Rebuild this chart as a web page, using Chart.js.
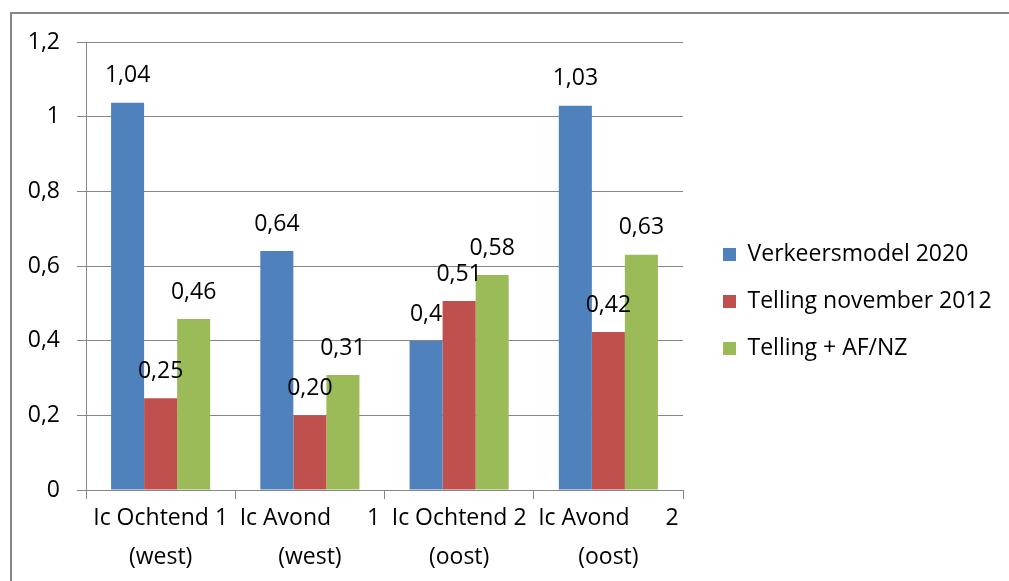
<!DOCTYPE html>
<html><head><meta charset="utf-8">
<script src="https://cdn.jsdelivr.net/npm/chart.js@4.4.1/dist/chart.umd.min.js"></script>
<style>
html,body{margin:0;padding:0;background:#fff;}
#wrap{position:relative;width:1009px;height:581px;overflow:hidden;}
#frame{position:absolute;left:10px;top:12px;width:1100px;height:700px;border-left:2px solid #868686;border-top:2px solid #868686;}
canvas{position:absolute;left:0;top:0;}
</style></head><body>
<div id="wrap"><div id="frame"></div><canvas id="c" width="1009" height="581"></canvas></div>
<script>
const categories = [["Ic Ochtend 1","(west)"],["Ic Avond      1","(west)"],["Ic Ochtend 2","(oost)"],["Ic Avond      2","(oost)"]];
const seriesNames = ["Verkeersmodel 2020","Telling november 2012","Telling + AF/NZ"];
const verkeersmodel2020 = [1.037, 0.64, 0.399, 1.029];
const telling2012 = [0.246, 0.20, 0.506, 0.423];
const tellingAfNz = [0.458, 0.308, 0.576, 0.63];
const labelsVerkeersmodel = ["1,04","0,64","0,4","1,03"];
const labelsTelling2012 = ["0,25","0,20","0,51","0,42"];
const labelsTellingAfNz = ["0,46","0,31","0,58","0,63"];
const yTickLabels = ["0","0,2","0,4","0,6","0,8","1","1,2"];

const FONT = '"Open Sans"';
const FS = 23;

const dataLabelPlugin = {
  id: 'dataLabels',
  afterDatasetsDraw(chart) {
    const ctx = chart.ctx;
    ctx.save();
    ctx.font = FS + 'px ' + FONT;
    ctx.fillStyle = '#000';
    ctx.textAlign = 'center';
    ctx.textBaseline = 'middle';
    chart.data.datasets.forEach((ds, di) => {
      const meta = chart.getDatasetMeta(di);
      meta.data.forEach((bar, i) => {
        ctx.fillText(ds.valueLabels[i], bar.x, bar.y - 27);
      });
    });
    ctx.restore();
  }
};

const legendPlacement = {
  id: 'legendPlacement',
  beforeLayout(chart) {
    const lg = chart.legend;
    if (lg && !lg._patched) {
      const f = lg.fit.bind(lg);
      lg.fit = function () { f(); this.width = 326; };
      lg._patched = true;
    }
  },
  afterLayout(chart) {
    const lg = chart.legend;
    const dx = 16, dy = -10;
    lg.left += dx; lg.right += dx; lg.top += dy; lg.bottom += dy;
  }
};

new Chart(document.getElementById('c'), {
  type: 'bar',
  data: {
    labels: categories,
    datasets: [
      { label: seriesNames[0], data: verkeersmodel2020, valueLabels: labelsVerkeersmodel, backgroundColor: '#4F81BD' },
      { label: seriesNames[1], data: telling2012, valueLabels: labelsTelling2012, backgroundColor: '#C0504D' },
      { label: seriesNames[2], data: tellingAfNz, valueLabels: labelsTellingAfNz, backgroundColor: '#9BBB59' }
    ]
  },
  options: {
    responsive: false,
    animation: false,
    devicePixelRatio: 1,
    categoryPercentage: 0.664,
    barPercentage: 1,
    layout: { padding: { top: 42, right: 0, bottom: 0, left: 0 } },
    plugins: {
      tooltip: { enabled: false },
      legend: {
        position: 'right',
        labels: {
          boxWidth: 13, boxHeight: 13, padding: 24,
          color: '#000',
          font: { family: FONT, size: FS }
        }
      }
    },
    scales: {
      x: {
        afterFit(scale) { scale.height = 91; },
        grid: { display: true, drawOnChartArea: false, offset: true, tickLength: 9, color: '#868686', lineWidth: 1 },
        border: { color: '#868686', width: 1 },
        ticks: { color: '#000', padding: 0, maxRotation: 0, autoSkip: false, font: { family: FONT, size: FS, lineHeight: 1.7 } }
      },
      y: {
        min: 0, max: 1.2,
        afterFit(scale) { scale.width = 86; },
        grid: { color: '#868686', tickLength: 9, lineWidth: 1 },
        border: { color: '#868686', width: 1 },
        ticks: {
          stepSize: 0.2, padding: 17, color: '#000',
          font: { family: FONT, size: FS },
          callback: (v, i) => yTickLabels[i]
        }
      }
    }
  },
  plugins: [dataLabelPlugin, legendPlacement]
});
</script>
</body></html>
